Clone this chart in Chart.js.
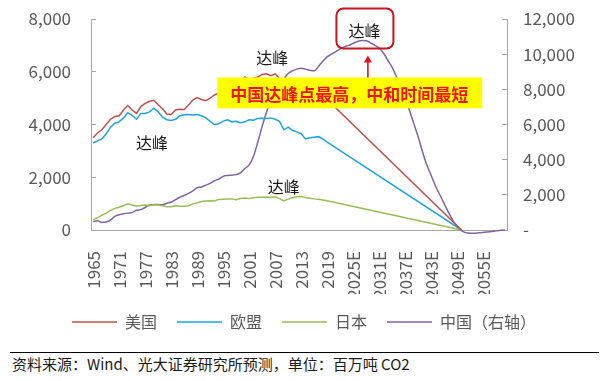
<!DOCTYPE html>
<html><head><meta charset="utf-8">
<script src="https://cdn.jsdelivr.net/npm/chart.js@4"></script>
<style>
html,body{margin:0;padding:0;background:#fff;}
#wrap{position:relative;width:608px;height:381px;overflow:hidden;background:#fff;}
#c{position:absolute;left:0;top:0;}
#note{position:absolute;left:10px;top:352px;width:587px;border-top:1.6px solid #000;font:15px 'Noto Sans CJK SC',sans-serif;color:#1a1a1a;padding:1px 0 0 2px;line-height:19px;white-space:nowrap;}
</style></head>
<body><div id="wrap"><canvas id="c" width="608" height="340"></canvas><div id="note">资料来源：Wind、光大证券研究所预测，单位：百万吨 CO2</div></div>
<script>
const FONT = "'Noto Sans CJK SC', 'Noto Sans', sans-serif";

const years = [
 '1965','1966','1967','1968','1969','1970','1971','1972','1973','1974',
 '1975','1976','1977','1978','1979','1980','1981','1982','1983','1984',
 '1985','1986','1987','1988','1989','1990','1991','1992','1993','1994',
 '1995','1996','1997','1998','1999','2000','2001','2002','2003','2004',
 '2005','2006','2007','2008','2009','2010','2011','2012','2013','2014',
 '2015','2016','2017','2018','2019','2020','2021E','2022E','2023E','2024E',
 '2025E','2026E','2027E','2028E','2029E','2030E','2031E','2032E','2033E','2034E',
 '2035E','2036E','2037E','2038E','2039E','2040E','2041E','2042E','2043E','2044E',
 '2045E','2046E','2047E','2048E','2049E','2050E','2051E','2052E','2053E','2054E',
 '2055E','2056E','2057E','2058E','2059E','2060E'];

const seriesNames = ['美国','欧盟','日本','中国（右轴）'];

const N = null;
const usa = [
 3500,3680,3800,4000,4200,4300,4330,4550,4720,4550,
 4420,4680,4800,4880,4920,4750,4600,4400,4380,4550,
 4580,4570,4740,4930,5020,4950,4900,5000,5120,5200,
 5250,5420,5500,5530,5600,5800,5700,5750,5800,5900,
 5920,5850,5920,5750,5350,5550,5420,5200,5350,5400,
 5300,5200,5150,5300,4950,N,N,N,N,N,
 N,N,N,N,N,N,N,N,N,N,
 N,N,N,N,N,N,N,N,N,N,
 N,N,N,N,N,0,N,N,N,N,
 N,N,N,N,N,N];
const eu = [
 3300,3380,3450,3650,3900,4050,4100,4250,4450,4350,
 4200,4420,4420,4480,4620,4480,4280,4180,4150,4200,
 4330,4370,4380,4360,4380,4330,4250,4120,4000,4030,
 4130,4180,4100,4120,4070,4100,4180,4160,4230,4240,
 4230,4250,4200,4120,3800,3900,3780,3720,3650,3450,
 3500,3520,3540,3450,3330,N,N,N,N,N,
 N,N,N,N,N,N,N,N,N,N,
 N,N,N,N,N,N,N,N,N,N,
 N,N,N,N,N,0,N,N,N,N,
 N,N,N,N,N,N];
const japan = [
 400,460,560,640,740,820,860,920,990,950,
 900,930,950,920,960,950,920,880,880,920,
 900,900,920,990,1030,1080,1100,1110,1100,1160,
 1170,1180,1180,1150,1190,1210,1190,1220,1240,1240,
 1250,1230,1260,1190,1100,1170,1220,1260,1270,1230,
 1200,1180,1170,1140,1110,N,N,N,N,N,
 N,N,N,N,N,N,N,N,N,N,
 N,N,N,N,N,N,N,N,N,N,
 N,N,N,N,N,0,N,N,N,N,
 N,N,N,N,N,N];
const china = [
 480,520,430,450,560,780,870,920,960,990,
 1120,1160,1280,1420,1440,1450,1430,1520,1590,1720,
 1860,1960,2080,2230,2400,2450,2550,2650,2800,2900,
 3050,3100,3120,3150,3250,3500,3700,4200,5000,5900,
 6700,7400,7900,8300,8600,8900,9050,9150,9200,9150,
 9080,9050,9300,9600,9850,10000,10150,10300,10420,10500,
 10620,10720,10780,10760,10650,10500,10350,10050,9650,9250,
 8700,8100,7450,6800,6050,5300,4450,3700,3100,2500,
 2000,1500,1000,550,200,-30,-150,-180,-180,-160,
 -140,-110,-80,-50,-20,0];

const leftTicks = [0,2000,4000,6000,8000];
const rightTicks = [0,2000,4000,6000,8000,10000,12000];

// annotations anchored in data units
const peakLabels = [
  {text:'达峰', year:2006.3, value:6540, axis:'y'},
  {text:'达峰', year:1978.6, value:3290, axis:'y'},
  {text:'达峰', year:2009.0, value:1625, axis:'y'}
];
const chinaPeak = {text:'达峰', year:2027.6, value:11345, axis:'y1'};
const callout = {text:'中国达峰点最高，中和时间最短', year:2024.1, value:5180, axis:'y'};
const arrow = {year:2028.4, from:5785, to:6620, axis:'y'};

const notesPlugin = {
  id:'notes',
  afterDatasetsDraw(chart){
    const {ctx, scales} = chart;
    const px = yr => scales.x.getPixelForValue(yr - 1965);
    ctx.save();
    ctx.textAlign = 'center';
    ctx.textBaseline = 'middle';
    const cx = px(callout.year), cy = scales[callout.axis].getPixelForValue(callout.value);
    ctx.fillStyle = '#FFFF00';
    ctx.fillRect(cx - 132, cy - 16, 265, 31);
    ctx.fillStyle = '#F0141E';
    ctx.font = "bold 17px " + FONT;
    ctx.fillText(callout.text, cx, cy + 1);
    const ax = px(arrow.year);
    const ay1 = scales[arrow.axis].getPixelForValue(arrow.from);
    const ay2 = scales[arrow.axis].getPixelForValue(arrow.to);
    ctx.strokeStyle = '#E0141E'; ctx.lineWidth = 1.6;
    ctx.beginPath(); ctx.moveTo(ax, ay1); ctx.lineTo(ax, ay2 + 5); ctx.stroke();
    ctx.fillStyle = '#E0141E';
    ctx.beginPath(); ctx.moveTo(ax, ay2); ctx.lineTo(ax - 4, ay2 + 7); ctx.lineTo(ax + 4, ay2 + 7); ctx.closePath(); ctx.fill();
    ctx.fillStyle = '#1a1a1a';
    ctx.font = "16px " + FONT;
    peakLabels.forEach(p => {
      ctx.fillText(p.text, px(p.year), scales[p.axis].getPixelForValue(p.value));
    });
    const bx = px(chinaPeak.year), by = scales[chinaPeak.axis].getPixelForValue(chinaPeak.value);
    ctx.fillText(chinaPeak.text, bx, by);
    ctx.strokeStyle = '#C8141E'; ctx.lineWidth = 2;
    ctx.beginPath();
    if (ctx.roundRect) ctx.roundRect(bx - 28, by - 22, 57, 40, 7); else ctx.rect(bx - 28, by - 22, 57, 40);
    ctx.stroke();
    ctx.restore();
  }
};

const axisColor = '#a6a6a6';
const tickColor = '#595959';

new Chart(document.getElementById('c'), {
  type:'line',
  data:{
    labels: years,
    datasets:[
      {label:seriesNames[0], data:usa, yAxisID:'y', borderColor:'#C0504D', backgroundColor:'#C0504D', borderWidth:1.5, pointRadius:0, spanGaps:true, tension:0},
      {label:seriesNames[1], data:eu, yAxisID:'y', borderColor:'#1FA3DE', backgroundColor:'#1FA3DE', borderWidth:1.5, pointRadius:0, spanGaps:true, tension:0},
      {label:seriesNames[2], data:japan, yAxisID:'y', borderColor:'#9BBB59', backgroundColor:'#9BBB59', borderWidth:1.5, pointRadius:0, spanGaps:true, tension:0},
      {label:seriesNames[3], data:china, yAxisID:'y1', borderColor:'#8064A2', backgroundColor:'#8064A2', borderWidth:1.5, pointRadius:0, cubicInterpolationMode:'monotone', clip:false}
    ]
  },
  options:{
    responsive:false,
    animation:false,
    layout:{padding:{top:19, left:0, right:0, bottom:0}},
    plugins:{
      legend:{position:'bottom', labels:{boxWidth:45, boxHeight:0, padding:20, color:tickColor, font:{size:16, family:FONT}}},
      tooltip:{enabled:false}
    },
    scales:{
      x:{
        type:'category', offset:true,
        grid:{display:false},
        border:{color:axisColor, width:1},
        ticks:{autoSkip:false, minRotation:90, maxRotation:90, padding:13, color:tickColor, font:{size:17, family:FONT},
          callback:(v,i)=> i % 6 === 0 ? years[i] : null},
        afterFit(s){ s.height = 64; s.paddingLeft = 0; s.paddingRight = 0; }
      },
      y:{
        position:'left', min:0, max:8000,
        afterBuildTicks(s){ s.ticks = leftTicks.map(v=>({value:v})); },
        grid:{drawOnChartArea:false, drawTicks:true, tickLength:-5, color:axisColor},
        border:{color:axisColor, width:1},
        ticks:{padding:25, color:tickColor, font:{size:17, family:FONT}, callback:v=>v.toLocaleString('en-US')},
        afterFit(s){ s.width = 91; s.paddingTop = 0; s.paddingBottom = 0; }
      },
      y1:{
        position:'right', min:0, max:12000,
        afterBuildTicks(s){ s.ticks = rightTicks.map(v=>({value:v})); },
        grid:{drawOnChartArea:false, drawTicks:true, tickLength:-5, color:axisColor},
        border:{color:axisColor, width:1},
        ticks:{padding:21, color:tickColor, font:{size:17, family:FONT}, callback:v=> v === 0 ? '-' : v.toLocaleString('en-US')},
        afterFit(s){ s.width = 101; s.paddingTop = 0; s.paddingBottom = 0; }
      }
    }
  },
  plugins:[notesPlugin]
});
</script>
</body></html>
